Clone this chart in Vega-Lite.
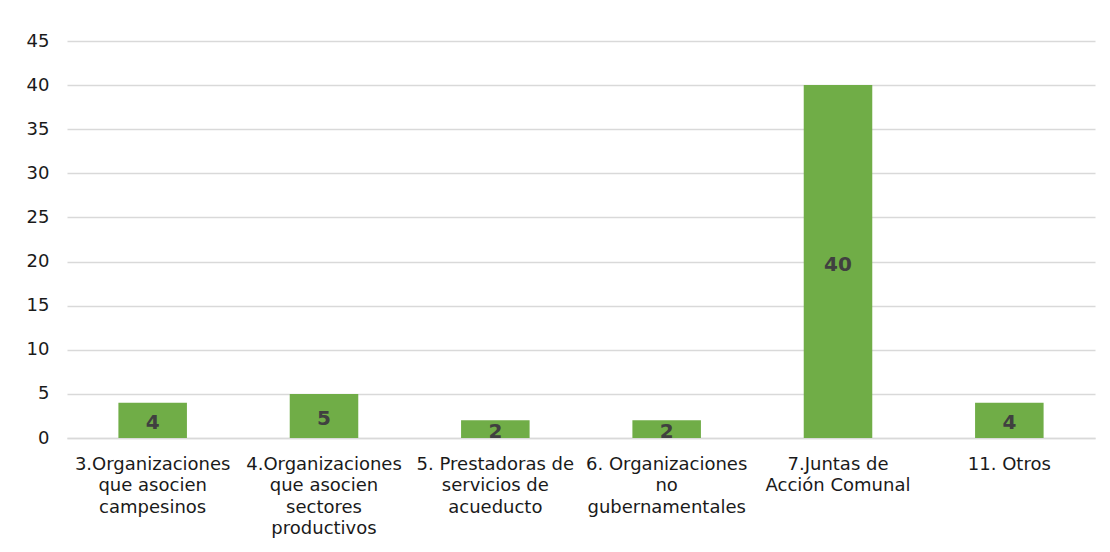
{
  "$schema": "https://vega.github.io/schema/vega-lite/v6.json",
  "autosize": {"type": "none"},
  "width": 1028,
  "height": 397,
  "padding": {"left": 67, "top": 41, "right": 15, "bottom": 114},
  "background": "white",
  "config": {"view": {"stroke": null}, "font": "DejaVu Sans"},
  "data": {"values": [
    {"cat": "3.Organizaciones|que asocien|campesinos", "value": 4},
    {"cat": "4.Organizaciones|que asocien|sectores|productivos", "value": 5},
    {"cat": "5. Prestadoras de|servicios de|acueducto", "value": 2},
    {"cat": "6. Organizaciones|no|gubernamentales", "value": 2},
    {"cat": "7.Juntas de|Acción Comunal", "value": 40},
    {"cat": "11. Otros", "value": 4}
  ]},
  "encoding": {
    "x": {"field": "cat", "type": "nominal", "sort": null,
      "scale": {"paddingInner": 0.6, "paddingOuter": 0.3},
      "axis": {"title": null, "labelAngle": 0, "labelExpr": "split(datum.label, '|')",
        "labelFont": "DejaVu Sans", "labelFontSize": 18, "labelColor": "#1a1a1a",
        "labelLineHeight": 21.5, "labelPadding": 17, "ticks": false,
        "domainColor": "#D9D9D9", "domainWidth": 1.5, "labelLimit": 0, "labelBaseline": "top"}},
    "y": {"field": "value", "type": "quantitative",
      "scale": {"domain": [0, 45], "nice": false},
      "axis": {"title": null, "values": [0,5,10,15,20,25,30,35,40,45], "domain": false, "ticks": false,
        "labelFont": "DejaVu Sans", "labelFontSize": 18, "labelColor": "#1a1a1a", "labelPadding": 18,
        "gridColor": "#D9D9D9", "gridWidth": 1.5}}
  },
  "layer": [
    {"mark": {"type": "bar", "color": "#70AD47"}},
    {"transform": [{"calculate": "datum.value / 2", "as": "mid"}],
     "mark": {"type": "text", "font": "DejaVu Sans", "fontSize": 20, "fontWeight": "bold", "color": "#404040", "baseline": "middle", "dy": 3},
     "encoding": {"y": {"field": "mid", "type": "quantitative"}, "text": {"field": "value"}}}
  ]
}
